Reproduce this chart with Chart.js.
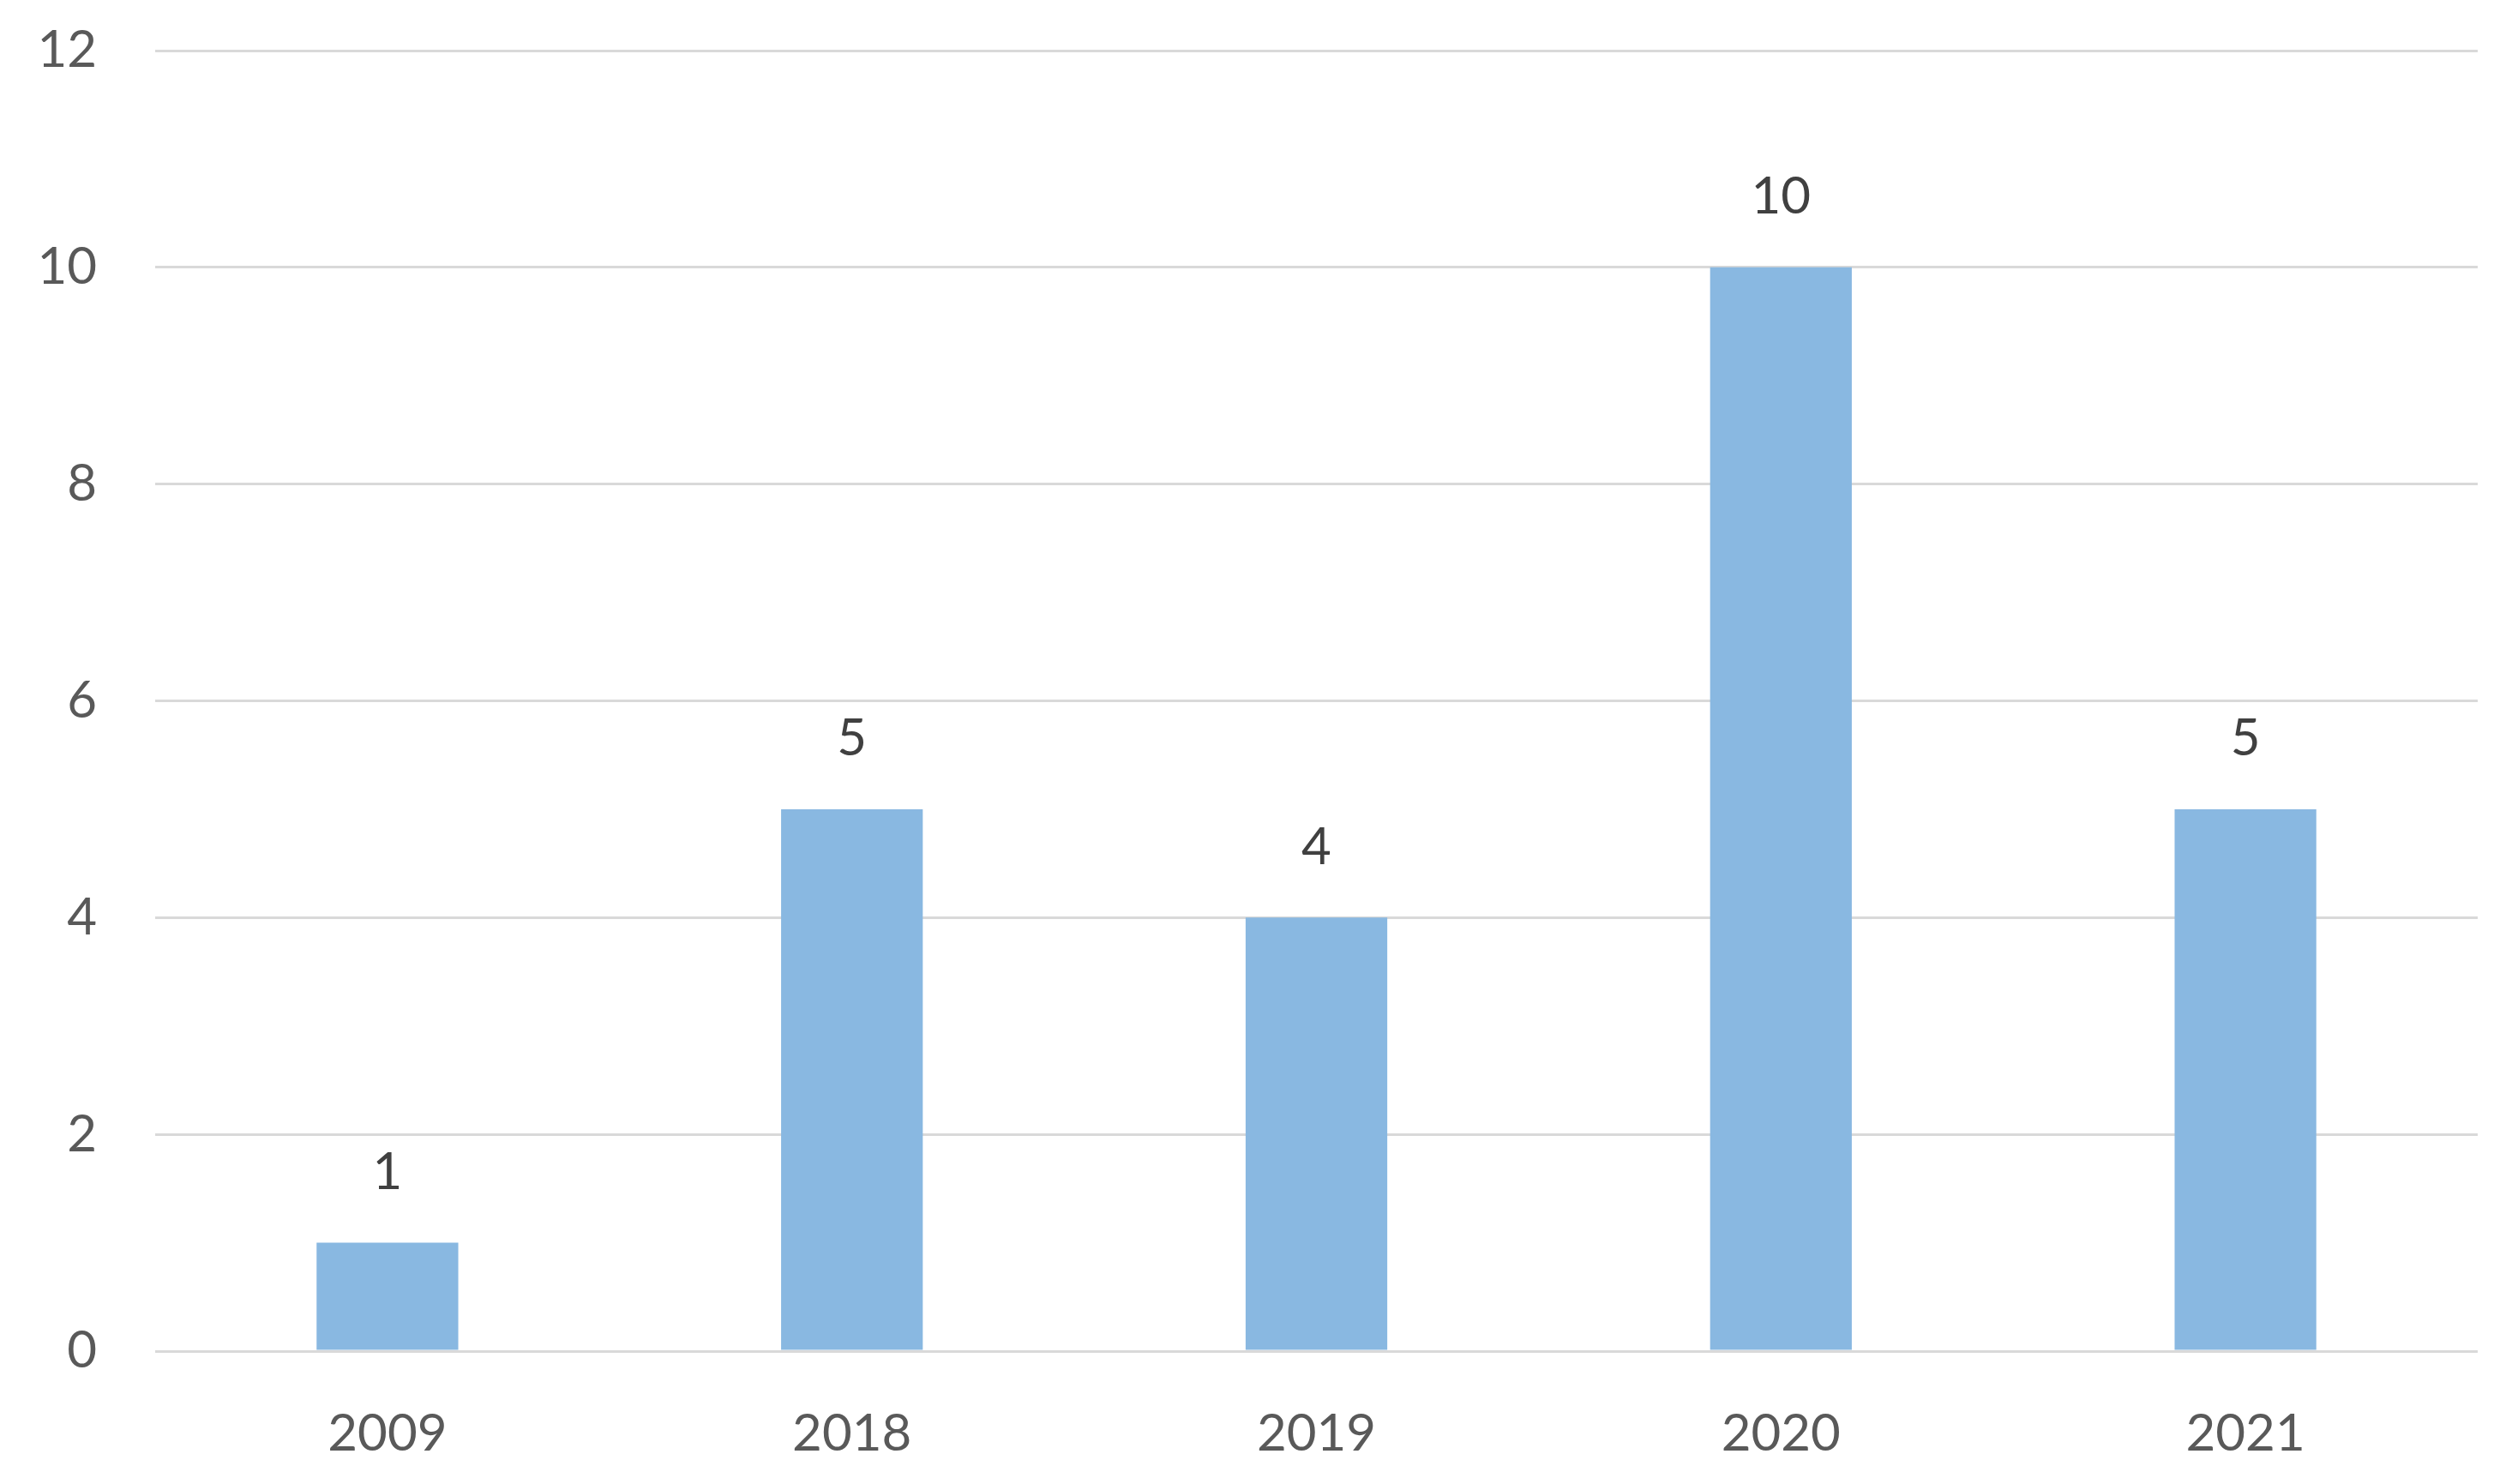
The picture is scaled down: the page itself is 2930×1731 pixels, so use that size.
<!DOCTYPE html>
<html lang="en">
  <head>
    <meta charset="UTF-8" />
    <title>Bar chart</title>
    <script src="https://cdn.jsdelivr.net/npm/chart.js"></script>
    <style>
      html, body { margin: 0; padding: 0; background: #ffffff; }
      #wrap { width: 2930px; height: 1731px; }
    </style>
  </head>
  <body>
    <div id="wrap"><canvas id="chart"></canvas></div>
    <script>
      const years = ["2009", "2018", "2019", "2020", "2021"];
      const counts = [1, 5, 4, 10, 5];
      const yTicks = [0, 2, 4, 6, 8, 10, 12];

      const FONT = "Lato, 'Open Sans', sans-serif";

      // simple value labels above each bar
      const valueLabels = {
        id: "valueLabels",
        afterDatasetsDraw(chart) {
          const ctx = chart.ctx;
          const meta = chart.getDatasetMeta(0);
          ctx.save();
          ctx.font = "60px " + FONT;
          ctx.fillStyle = "#404040";
          ctx.textAlign = "center";
          ctx.textBaseline = "middle";
          meta.data.forEach((bar, i) => {
            ctx.fillText(String(counts[i]), bar.x, bar.y - 82);
          });
          ctx.restore();
        },
      };

      new Chart(document.getElementById("chart").getContext("2d"), {
        type: "bar",
        data: {
          labels: years,
          datasets: [
            {
              data: counts,
              backgroundColor: "#89b8e1",
              borderWidth: 0,
              barPercentage: 1,
              categoryPercentage: 0.305,
            },
          ],
        },
        options: {
          responsive: true,
          maintainAspectRatio: false,
          animation: false,
          layout: { padding: { top: 59, right: 40, left: 0, bottom: 0 } },
          plugins: { legend: { display: false }, tooltip: { enabled: false } },
          scales: {
            x: {
              grid: { display: false },
              border: { display: false },
              ticks: {
                color: "#595959",
                font: { family: FONT, size: 60 },
                padding: 53,
              },
              afterFit(scale) {
                scale.height = 155;
                scale.paddingLeft = 0;
                scale.paddingRight = 0;
              },
            },
            y: {
              min: 0,
              max: 12,
              afterBuildTicks(scale) {
                scale.ticks = yTicks.map((v) => ({ value: v }));
              },
              grid: { color: "#d9d9d9", lineWidth: 3, drawTicks: false },
              border: { display: false },
              ticks: {
                color: "#595959",
                font: { family: FONT, size: 60 },
                padding: 68,
              },
              afterFit(scale) {
                scale.width = 181;
                scale.paddingTop = 0;
                scale.paddingBottom = 0;
              },
            },
          },
        },
        plugins: [valueLabels],
      });
    </script>
  </body>
</html>
